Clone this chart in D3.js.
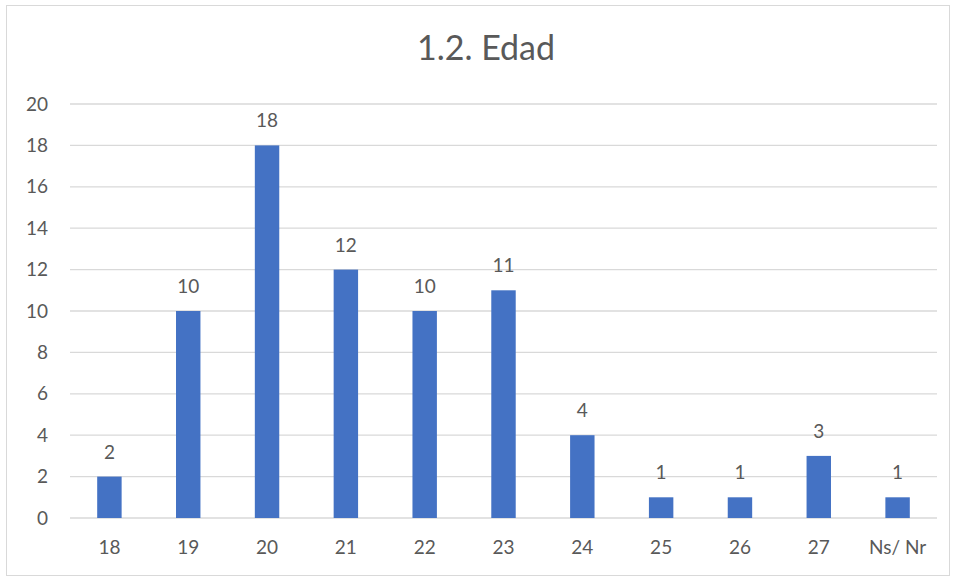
<!DOCTYPE html>
<html><head><meta charset="utf-8">
<script src="https://cdn.jsdelivr.net/npm/d3@7"></script>
<style>body{margin:0;background:#fff}svg{display:block}text{font-family:Lato,"Open Sans",sans-serif;fill:#595959}</style>
</head><body><svg id="c" width="956" height="578"></svg>
<script>
const categories = ["18","19","20","21","22","23","24","25","26","27","Ns/ Nr"];
const values = [2,10,18,12,10,11,4,1,1,3,1];
const yTicks = [0,2,4,6,8,10,12,14,16,18,20];
const title = "1.2. Edad";

const svg = d3.select("#c");
svg.append("rect").attr("x",6.5).attr("y",5.5).attr("width",943).attr("height",570)
  .attr("fill","#fff").attr("stroke","#D9D9D9");
const x = d3.scaleBand().domain(categories).range([70,937]).paddingInner(0.69).paddingOuter(0.345);
const y = d3.scaleLinear().domain([0,20]).range([518,104]);

svg.append("g").selectAll("line").data(yTicks).join("line")
  .attr("x1",70).attr("x2",937).attr("y1",d=>y(d)).attr("y2",d=>y(d))
  .attr("stroke","#D9D9D9").attr("stroke-width",1.3);

const yAxis = svg.append("g").attr("transform","translate(70,0)")
  .call(d3.axisLeft(y).tickValues(yTicks).tickSize(0).tickPadding(22));
yAxis.select(".domain").remove();
yAxis.selectAll("text").attr("font-size",19).style("font-family","Lato,sans-serif").attr("fill","#595959");

const xAxis = svg.append("g").attr("transform","translate(0,518)")
  .call(d3.axisBottom(x).tickSize(0).tickPadding(23));
xAxis.select(".domain").remove();
xAxis.selectAll("text").attr("font-size",19).style("font-family","Lato,sans-serif").attr("fill","#595959");

svg.append("g").selectAll("text").data(values).join("text")
  .attr("x",(d,i)=>x(categories[i])+x.bandwidth()/2).attr("y",d=>y(d)-18)
  .attr("text-anchor","middle").attr("font-size",19).text(d=>d);

svg.append("g").selectAll("rect").data(values).join("rect")
  .attr("x",(d,i)=>x(categories[i])).attr("width",x.bandwidth())
  .attr("y",d=>y(d)).attr("height",d=>y(0)-y(d)).attr("fill","#4472C4");

svg.append("text").attr("x",486).attr("y",60).attr("text-anchor","middle")
  .attr("font-size",34).text(title);
</script></body></html>
